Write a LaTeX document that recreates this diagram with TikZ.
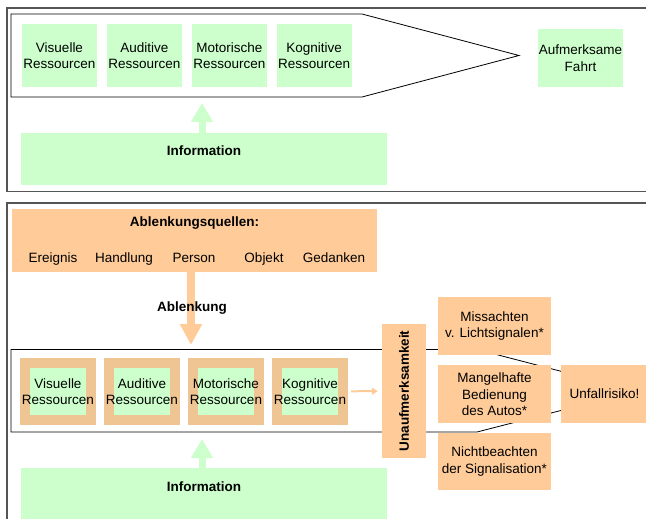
\documentclass[tikz,border=0pt]{standalone}
\usepackage{fontspec}
\setmainfont{Liberation Sans}
\usetikzlibrary{positioning, arrows.meta}

\definecolor{resgreen}{HTML}{CCFFCC}
\definecolor{srcorange}{HTML}{FFCC99}
\definecolor{resorange}{HTML}{F0C594}
\definecolor{framegray}{HTML}{555555}

\begin{document}
\begin{tikzpicture}[x=1pt, y=-1pt,
    font=\fontsize{13.5pt}{16.5pt}\selectfont,
    every node/.style={align=center},
    box/.style={rectangle, inner sep=0pt, minimum width=75pt, minimum height=63pt},
    gbox/.style={box, fill=resgreen},
    obox/.style={box, fill=srcorange},
    res/.style={rectangle, inner sep=0pt, fill=resgreen, draw=resorange, line width=10pt, minimum width=66pt, minimum height=57pt},
    item/.style={anchor=base},
    panel/.style={draw=framegray, line width=1.3pt},
    chevron/.style={draw=black, line width=0.8pt},
    garrow/.style={draw=resgreen, line width=7pt, -{Triangle[width=21pt, length=19pt]}},
    oarrow/.style={draw=srcorange, line width=8pt, -{Triangle[width=21pt, length=21pt]}},
    smallarrow/.style={draw=srcorange, line width=2pt, -{Triangle[width=7pt, length=6pt]}},
]
\clip (0,0) rectangle (646,519);

% upper panel
\draw[panel] (7,8) rectangle (660,191.5);
\draw[chevron] (11,14) -- (362,14) -- (519,55.5) -- (362,97) -- (11,97) -- cycle;

\node[gbox] (vis1) at (59.5,55.5) {Visuelle\\Ressourcen};
\node[gbox, right=9.5pt of vis1] (aud1) {Auditive\\Ressourcen};
\node[gbox, right=9.5pt of aud1] (mot1) {Motorische\\Ressourcen};
\node[gbox, right=9.5pt of mot1] (kog1) {Kognitive\\Ressourcen};

\node[gbox, minimum width=85pt, minimum height=58pt] (fahrt) at (580.5,58) {Aufmerksame\\Fahrt};

\node[gbox, minimum width=366pt, minimum height=52pt,
  label={[anchor=center, yshift=-18pt]north:{\bfseries Information}}] (info1) at (204,159) {};

\coordinate (in1) at (202,103);
\draw[garrow] (info1.north -| in1) -- (in1);

% lower panel
\draw[panel] (7,203) rectangle (660,530);
\draw[chevron] (11,349.5) -- (477,349.5) -- (637,391) -- (477,432) -- (11,432) -- cycle;

\node[obox, minimum width=365pt, minimum height=63pt] (src) at (194.5,240.5) {};
\node (srctitle) at (194.5,223) {\bfseries Ablenkungsquellen:};
\node[item] (ereignis) at (53,262) {Ereignis};
\node[item] (handlung) at (124,262) {Handlung};
\node[item] (person) at (194,262) {Person};
\node[item] (objekt) at (264,262) {Objekt};
\node[item] (gedanken) at (334,262) {Gedanken};

\coordinate (abl) at (191,345);
\draw[oarrow] (src.south -| abl) -- (abl);
\node (abltext) at (192,308) {\bfseries Ablenkung};

\node[res, label=center:{Visuelle\\Ressourcen}] (vis2) at (58,391.5) {};
\node[res, right=8pt of vis2, label=center:{Auditive\\Ressourcen}] (aud2) {};
\node[res, right=8pt of aud2, label=center:{Motorische\\Ressourcen}] (mot2) {};
\node[res, right=8pt of mot2, label=center:{Kognitive\\Ressourcen}] (kog2) {};

\node[obox, rotate=90, minimum width=134pt, minimum height=44pt] (unauf) at (404,391) {\bfseries Unaufmerksamkeit};
\draw[smallarrow, shorten <=3pt, shorten >=4pt] (kog2) -- (unauf);

\node[obox, minimum width=113pt, minimum height=58pt] (miss) at (494.5,326) {Missachten\\v. Lichtsignalen*};
\node[obox, minimum width=113pt, minimum height=58pt, below=10pt of miss] (bedien) {Mangelhafte\\Bedienung\\des Autos*};
\node[obox, minimum width=113pt, minimum height=57pt, below=9pt of bedien] (signal) {Nichtbeachten\\der Signalisation*};
\node[obox, minimum width=87pt, minimum height=58pt] (risiko) at (604.5,394) {Unfallrisiko!};

\coordinate (in2) at (202,439);
\node[gbox, minimum width=366pt, minimum height=52pt,
  label={[anchor=center, yshift=-19pt]north:{\bfseries Information}}] (info2) at (204,494) {};
\draw[garrow] (info2.north -| in2) -- (in2);

\end{tikzpicture}
\end{document}
